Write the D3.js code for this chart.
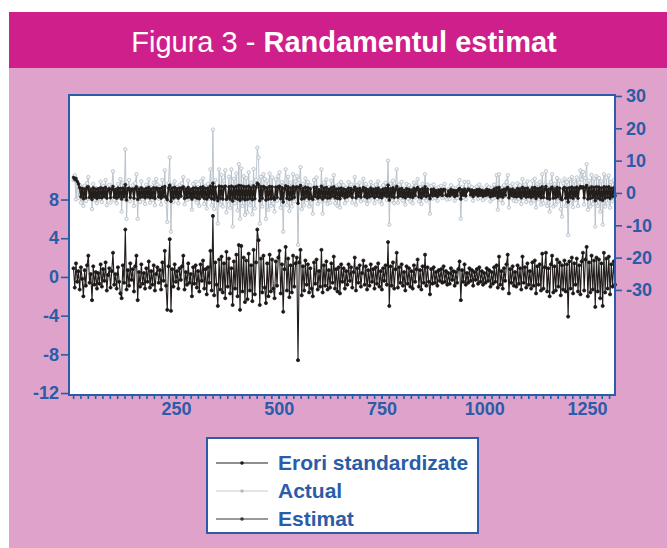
<!DOCTYPE html>
<html><head><meta charset="utf-8">
<script src="https://cdn.jsdelivr.net/npm/d3@7"></script>
<style>body{margin:0;background:#fff}svg{display:block}</style>
</head><body>
<svg id="c" width="667" height="548"></svg>
<script>
const obsStart = 1, obsStep = 3;
const residual = [
 0.9,-1.1,1.4,-0.5,0.6,-1.3,1.0,-0.2,-2.0,0.7,-0.9,1.2,2.2,-0.6,0.3,-2.4,1.1,-0.8,0.5,-1.2,
 0.4,-0.7,1.3,-1.0,0.8,-0.4,1.5,-1.4,0.2,0.9,-1.1,0.6,2.5,-0.8,0.3,-1.2,1.0,-0.5,-1.7,-2.2,
 1.2,-0.6,4.9,-1.3,0.7,-0.9,1.4,-0.3,0.8,-1.5,1.1,2.2,-2.4,0.5,-1.0,1.3,-0.7,0.4,-1.2,0.9,
 -0.5,1.6,-1.1,0.6,-0.8,1.2,-1.4,0.3,1.0,-0.6,0.7,-1.3,1.5,-0.4,2.7,-0.9,-3.4,1.1,3.9,-3.5,
 0.8,-1.0,1.3,-0.5,0.6,-1.2,0.9,-0.3,1.1,2.2,-1.3,0.5,-0.8,1.4,-0.6,0.3,-2.0,1.0,-0.7,1.2,
 -1.1,0.6,-1.5,1.3,-0.4,1.7,-1.2,0.8,-1.8,1.0,-0.6,2.7,-1.4,6.3,-1.9,1.5,-0.8,-3.0,1.8,-1.3,
 2.1,-1.6,1.4,-2.2,2.6,-1.0,1.9,-1.7,0.9,-2.9,1.6,-1.2,2.3,-2.0,3.3,-3.4,3.2,-1.5,2.0,-2.6,
 1.7,-2.3,2.4,-1.4,1.2,-2.5,2.8,-1.8,1.5,4.9,3.8,-2.9,1.9,-1.6,2.2,-1.1,-2.7,1.4,-2.0,2.3,
 -1.5,1.8,-1.2,-2.2,1.6,-0.9,2.0,2.7,-1.7,1.3,-3.6,0.8,3.1,-1.4,1.9,-2.1,1.2,-1.6,2.2,-1.0,
 1.4,2.0,-8.6,1.5,2.8,-1.9,1.1,-1.4,1.7,-0.8,1.3,-1.6,0.9,-1.2,-2.0,1.5,-0.7,1.8,-1.3,0.6,
 -1.0,2.8,-1.6,1.2,-0.9,1.6,-1.3,0.7,-1.1,1.4,-0.6,2.1,-1.2,0.8,-1.5,1.0,-1.7,1.3,-0.5,0.9,
 -1.2,0.6,-0.8,1.3,-0.4,1.0,-1.1,0.5,2.0,-1.4,0.9,-0.6,1.2,-1.0,0.4,1.7,-0.8,1.1,-1.3,0.7,
 -0.9,1.3,-0.5,0.8,-1.2,1.0,-0.7,1.4,-1.0,0.6,-1.3,0.9,-0.4,1.2,-0.8,3.6,-3.0,1.1,-0.9,1.5,
 -1.2,0.8,2.5,-1.1,1.0,-0.6,1.3,-0.9,0.5,-1.4,1.1,-0.7,0.9,-1.0,0.6,-1.2,1.2,-0.5,0.8,1.8,
 -1.0,0.7,-1.3,1.1,-0.6,2.3,-0.9,1.0,-0.5,-1.8,0.8,-0.7,1.0,-0.6,0.5,-0.9,0.7,-0.4,0.8,-0.6,
 1.1,-0.5,0.6,-0.8,0.4,-0.7,0.9,-0.3,0.6,-0.9,0.5,-0.6,0.8,1.6,-2.4,0.7,-0.5,1.3,-0.8,0.4,
 -0.6,0.9,-0.4,0.7,-0.9,0.5,-0.3,0.8,-0.7,1.0,-0.5,0.6,-0.8,0.4,-0.6,0.9,-0.4,0.7,-1.0,0.5,
 -0.7,1.0,-0.5,1.2,-1.1,2.1,-0.8,0.6,-1.2,0.9,-0.4,1.3,2.3,-1.7,0.8,-0.6,1.1,-0.9,0.5,-1.0,
 1.2,-0.7,0.9,-1.3,2.1,-0.6,1.0,-1.1,1.4,-0.8,0.6,-1.2,1.5,-0.9,1.7,-1.7,1.1,-0.8,1.3,-1.4,
 2.4,-1.2,1.0,2.5,-1.5,0.9,-2.0,1.3,2.2,-1.6,1.1,-1.4,1.8,-1.0,1.5,-1.9,1.2,-1.3,1.7,-1.5,
 1.3,-4.1,1.6,-1.2,2.0,-1.7,1.4,-0.8,1.9,-1.5,1.2,-1.8,1.6,2.5,-1.4,1.8,3.1,-2.0,1.5,-1.6,
 2.2,-1.3,1.7,-3.1,2.0,-1.5,1.8,-2.2,1.4,-3.0,2.5,-1.6,1.9,-1.2,2.1,-1.8,1.3,-1.0,1.6,-0.8
];
const actual = [
 4.0,5.5,-2.0,3.2,-1.5,2.5,-3.0,1.8,-4.0,2.2,-2.5,3.0,4.9,-1.8,1.2,-5.0,2.8,-2.2,1.5,-3.2,
 1.2,-2.0,3.5,-2.8,2.2,-1.2,4.0,-3.8,0.8,2.5,-3.0,1.8,6.7,-2.2,1.0,-3.2,2.8,-1.5,4.3,-5.8,
 3.2,-1.8,13.5,-8.0,2.0,4.0,-2.6,1.0,2.4,-4.0,3.0,5.8,-8.0,1.5,-2.8,3.6,-2.0,1.2,-3.4,2.6,
 -1.5,4.2,-3.0,1.8,-2.2,3.2,-3.8,4.3,2.6,-1.8,2.0,-3.6,4.0,-1.2,7.0,-2.6,-9.0,3.0,11.0,-12.0,
 2.4,-2.8,3.6,-1.5,1.8,-3.2,2.5,-1.0,3.0,4.9,-3.5,1.4,-2.2,3.8,-1.8,1.0,-5.2,2.8,-2.0,3.4,
 -3.0,1.8,-4.0,3.6,-1.2,4.5,-3.4,2.2,-4.8,2.8,-1.8,7.3,-3.8,19.6,-5.0,4.0,-2.2,-9.5,7.3,-3.6,
 5.6,-4.2,3.8,7.0,-6.0,-2.6,5.0,-4.6,7.3,-10.4,4.4,-3.2,6.0,-5.4,8.9,-8.0,7.6,-4.0,5.2,-6.8,
 4.6,-6.0,6.4,-3.8,3.2,-6.6,7.4,-4.8,4.0,14.0,11.0,-9.5,5.0,-4.2,5.8,4.3,-8.0,3.8,-5.2,6.0,
 -4.0,4.8,-3.2,-5.8,4.2,-2.4,5.2,6.4,-4.6,3.4,-12.0,2.2,7.3,-3.8,5.0,-5.6,3.2,-4.2,5.8,-2.6,
 3.6,5.2,-16.0,4.0,8.0,-5.0,2.8,-3.8,4.5,-2.2,3.4,-4.2,2.4,-3.2,-6.4,4.0,-1.8,4.8,-3.4,1.6,
 -2.6,7.3,-6.4,3.2,-2.4,4.2,-3.4,1.8,-3.0,3.8,-1.6,5.5,-3.2,2.2,-4.0,2.6,-4.5,3.4,-1.4,2.4,
 -3.2,1.6,-2.2,3.4,-1.0,2.6,-3.0,1.4,4.9,-3.6,2.4,-1.6,3.2,-2.6,1.0,4.4,-2.2,2.8,-3.4,1.8,
 -2.4,3.4,-1.4,2.2,-3.2,2.6,-1.8,3.6,-2.6,1.6,-3.4,2.4,-1.0,3.2,-2.2,10.0,-9.8,2.8,-2.4,3.8,
 -3.2,2.2,7.3,-3.0,2.6,-1.6,3.4,-2.4,1.4,-3.6,2.8,-1.8,2.4,-2.6,1.6,-3.2,3.2,-1.4,2.2,4.3,
 -2.6,1.8,-3.4,2.8,-1.6,5.8,-2.4,2.6,-1.4,-6.4,2.2,-1.8,2.6,-1.6,1.4,-2.4,1.8,-1.0,2.2,-1.6,
 1.8,2.8,-1.6,-2.0,1.2,-1.8,2.4,-0.8,1.6,-2.4,1.4,-1.6,2.0,4.0,-8.0,1.8,-1.4,3.4,-2.0,1.0,
 3.4,2.4,-1.0,1.8,-2.4,1.4,-0.8,2.0,-1.8,2.6,-1.4,1.6,-2.2,1.0,-1.6,2.4,-1.0,1.8,-2.6,1.4,
 -1.8,2.6,-1.4,5.5,-5.2,5.8,-2.2,1.6,-3.2,2.4,-1.0,3.4,5.5,-4.5,2.2,-1.6,2.8,-2.4,1.4,-2.6,
 3.0,-1.8,2.4,-3.4,4.3,-1.6,2.6,-2.8,3.6,-2.2,1.6,-3.2,3.8,-2.4,4.4,-4.5,2.8,-2.0,3.4,-3.6,
 5.8,-3.2,2.6,6.7,-4.0,2.4,-5.8,3.4,5.8,-4.2,2.8,-3.6,4.6,-2.6,3.8,-5.0,-7.3,3.0,4.4,-4.0,
 3.4,-13.0,4.2,-3.2,4.9,-4.4,3.6,-2.2,4.8,-4.0,3.2,7.0,4.2,6.5,-3.6,4.6,8.9,-5.2,3.8,-4.2,
 5.6,-3.4,4.4,-10.4,5.2,-4.0,4.6,-5.8,3.6,-9.8,5.8,-4.2,4.8,-3.2,5.4,-4.6,3.4,-2.6,4.0,-2.0
];
const fitted = [
 4.8,4.2,4.5,3.6,2.8,1.6,-1.2,1.4,-1.8,1.2,-1.5,1.8,1.9,-1.4,1.1,-2.0,1.6,-1.3,1.2,-1.7,
 1.3,-1.4,1.6,-1.5,1.4,-1.1,1.7,-1.6,1.0,1.3,-1.5,1.2,2.0,-1.3,1.1,-1.6,1.5,-1.2,1.4,-1.9,
 1.5,-1.2,2.6,-2.2,1.3,1.5,-1.4,1.1,1.2,-1.6,1.4,1.9,-2.0,1.2,-1.4,1.6,-1.2,1.1,-1.5,1.4,
 -1.2,1.7,-1.5,1.2,-1.4,1.6,-1.7,1.5,1.4,-1.2,1.3,-1.6,1.7,-1.1,2.0,-1.4,-2.1,1.5,2.4,-2.6,
 1.5,-1.6,1.7,-1.2,1.3,-1.6,1.5,-1.0,1.6,1.9,-1.7,1.2,-1.4,1.7,-1.3,1.1,-1.9,1.5,-1.3,1.6,
 -1.6,1.3,-1.8,1.7,-1.1,1.9,-1.7,1.4,-1.9,1.5,-1.3,2.1,-1.8,3.0,-2.0,1.8,-1.4,-2.4,2.1,-1.7,
 2.0,-1.9,1.8,2.1,-2.0,-1.4,1.9,-1.9,2.1,-2.5,1.8,-1.6,2.0,-1.9,2.3,-2.3,2.2,-1.8,2.0,-2.1,
 1.9,-2.0,2.1,-1.7,1.6,-2.1,2.2,-1.8,1.7,3.0,2.6,-2.4,1.9,-1.7,2.0,1.7,-2.2,1.6,-1.9,2.0,
 -1.8,1.9,-1.6,-2.0,1.8,-1.4,1.9,2.1,-1.8,1.6,-2.8,1.3,2.2,-1.7,1.9,-2.0,1.5,-1.8,2.0,-1.4,
 1.6,1.9,-3.2,1.7,2.3,-1.9,1.4,-1.7,1.8,-1.2,1.6,-1.8,1.3,-1.6,-2.0,1.7,-1.1,1.8,-1.6,1.0,
 -1.3,2.1,-1.9,1.5,-1.3,1.7,-1.6,1.1,-1.5,1.6,-1.0,1.9,-1.5,1.2,-1.7,1.3,-1.8,1.5,-0.9,1.2,
 -1.5,1.0,-1.2,1.5,-0.8,1.3,-1.4,0.9,1.8,-1.5,1.2,-1.0,1.4,-1.3,0.8,1.7,-1.1,1.3,-1.5,1.0,
 -1.2,1.5,-0.9,1.1,-1.4,1.3,-1.0,1.5,-1.3,0.9,-1.5,1.2,-0.8,1.4,-1.1,2.4,-2.2,1.3,-1.2,1.6,
 -1.4,1.1,2.0,-1.3,1.2,-0.9,1.4,-1.2,0.8,-1.5,1.3,-1.0,1.1,-1.2,0.9,-1.4,1.4,-0.8,1.1,1.7,
 -1.2,1.0,-1.5,1.3,-0.9,1.9,-1.1,1.2,-0.8,-1.8,1.0,-0.9,1.2,-0.8,0.7,-1.1,0.9,-0.6,1.0,-0.8,
 1.1,1.0,-0.7,-0.9,0.6,-0.9,1.1,-0.5,0.8,-1.1,0.7,-0.8,1.0,1.4,-1.9,0.9,-0.7,1.2,-0.9,0.6,
 1.2,1.0,-0.6,0.9,-1.1,0.7,-0.5,1.0,-0.9,1.1,-0.7,0.8,-1.0,0.6,-0.8,1.1,-0.6,0.9,-1.2,0.7,
 -0.9,1.2,-0.8,1.6,-1.5,1.7,-1.0,0.9,-1.3,1.1,-0.7,1.3,1.7,-1.5,1.0,-0.8,1.2,-1.1,0.8,-1.2,
 1.4,-1.0,1.2,-1.5,1.7,-0.9,1.3,-1.3,1.5,-1.1,0.9,-1.4,1.6,-1.1,1.7,-1.7,1.3,-1.0,1.5,-1.5,
 1.9,-1.4,1.2,2.0,-1.6,1.1,-1.9,1.4,1.8,-1.6,1.2,-1.5,1.7,-1.1,1.5,-1.8,-2.1,1.3,1.7,-1.6,
 1.4,-2.8,1.6,-1.4,1.8,-1.7,1.5,-1.0,1.8,-1.6,1.3,2.0,1.6,1.9,-1.5,1.7,2.3,-1.9,1.5,-1.7,
 1.9,-1.4,1.7,-2.4,1.9,-1.6,1.8,-2.0,1.5,-2.3,1.9,-1.6,1.8,-1.3,1.9,-1.7,1.4,-1.1,1.6,-0.9
];
const xTicks = [250, 500, 750, 1000, 1250];
const leftTicks = [-12, -8, -4, 0, 4, 8];
const rightTicks = [-30, -20, -10, 0, 10, 20, 30];
const legendLabels = ["Erori standardizate", "Actual", "Estimat"];
const titleNormal = "Figura 3 - ", titleBold = "Randamentul estimat";

// ---- drawing ----
const svg = d3.select("#c");
const BLUE = "#2a5ca8", PINK = "#dfa2cb", MAG = "#cf1f8b";
const FONT = "'Liberation Sans', Arial, sans-serif";
svg.append("rect").attr("width",667).attr("height",548).attr("fill","#fff");
svg.append("rect").attr("x",9).attr("y",12).attr("width",658).attr("height",536).attr("fill",PINK);
svg.append("rect").attr("x",9).attr("y",12).attr("width",658).attr("height",56).attr("fill",MAG);
const tt = svg.append("text").attr("x",344).attr("y",52).attr("text-anchor","middle")
  .attr("fill","#fff").attr("font-family",FONT).attr("font-size",29);
tt.append("tspan").text(titleNormal);
tt.append("tspan").attr("font-weight","bold").text(titleBold);

const L = 69, R = 615, T = 95, B = 395;
const x = d3.scaleLinear().domain([-10, 1318]).range([L, R]);
const yL = d3.scaleLinear().domain([-12.2, 18.8]).range([B, T]);
const yR = d3.scaleLinear().domain([-62.5, 30.3]).range([B, T]);
const obs = residual.map((_, i) => obsStart + i * obsStep);

svg.append("rect").attr("x",L).attr("y",T).attr("width",R-L).attr("height",B-T).attr("fill","#fff");

const g = svg.append("g");
function series(vals, ys, color, width, mr, mfill, mstroke) {
  const pts = vals.map((v, i) => [x(obs[i]), ys(v)]);
  g.append("path").attr("d", d3.line()(pts)).attr("fill","none")
    .attr("stroke",color).attr("stroke-width",width).attr("stroke-linejoin","round");
  g.selectAll(null).data(pts).enter().append("circle")
    .attr("cx", d => d[0]).attr("cy", d => d[1]).attr("r", mr)
    .attr("fill", mfill).attr("stroke", mstroke).attr("stroke-width", 0.7);
}
series(actual, yR, "#b3bec8", 0.9, 1.7, "#f2f4f6", "#aab6c0");
series(fitted, yR, "#221e1c", 1.7, 1.4, "#221e1c", "#221e1c");
series(residual, yL, "#221d1c", 1.1, 1.6, "#1a1716", "#1a1716");

// frame
svg.append("rect").attr("x",L).attr("y",T).attr("width",R-L).attr("height",B-T)
  .attr("fill","none").attr("stroke",BLUE).attr("stroke-width",2);

// axes
const fmt = d => String(d);
const axL = svg.append("g").attr("transform",`translate(${L},0)`)
  .call(d3.axisLeft(yL).tickValues(leftTicks).tickSize(8).tickPadding(2).tickFormat(fmt));
const axR = svg.append("g").attr("transform",`translate(${R},0)`)
  .call(d3.axisRight(yR).tickValues(rightTicks).tickSize(7).tickPadding(4).tickFormat(fmt));
const minor = d3.range(0, 1318, 250/14);
svg.append("g").attr("transform",`translate(0,${B})`)
  .call(d3.axisBottom(x).tickValues(minor).tickSize(4).tickFormat(""));
const axB = svg.append("g").attr("transform",`translate(0,${B})`)
  .call(d3.axisBottom(x).tickValues(xTicks).tickSize(4).tickPadding(3).tickFormat(fmt));
svg.selectAll(".domain").remove();
svg.selectAll(".tick line").attr("stroke",BLUE).attr("stroke-width",1.6);
svg.selectAll(".tick text").attr("fill",BLUE).attr("font-family",FONT)
  .attr("font-weight","bold").attr("font-size",18);

// legend
const lg = svg.append("g");
lg.append("rect").attr("x",207).attr("y",438).attr("width",271).attr("height",95)
  .attr("fill","#fff").attr("stroke",BLUE).attr("stroke-width",2);
const lstyles = [["#241f1e","#1a1716"],["#c4ccd2","#b3bec8"],["#3a3634","#3a3634"]];
const ly = [463, 491, 519];
legendLabels.forEach((t, i) => {
  lg.append("line").attr("x1",216).attr("x2",268).attr("y1",ly[i]).attr("y2",ly[i])
    .attr("stroke",lstyles[i][0]).attr("stroke-width",1.2);
  lg.append("circle").attr("cx",242).attr("cy",ly[i]).attr("r",1.8).attr("fill",lstyles[i][1]);
  lg.append("text").attr("x",278).attr("y",ly[i]+7).text(t).attr("fill",BLUE)
    .attr("font-family",FONT).attr("font-weight","bold").attr("font-size",21);
});
</script>
</body></html>
